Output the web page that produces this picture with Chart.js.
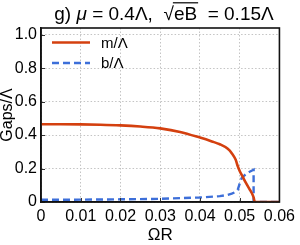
<!DOCTYPE html>
<html>
<head>
<meta charset="utf-8">
<script src="https://cdn.jsdelivr.net/npm/chart.js@4.4.0/dist/chart.umd.min.js"></script>
<style>
  html, body { margin: 0; padding: 0; background: #fff; }
  #wrap { width: 300px; height: 245px; }
</style>
</head>
<body>
<div id="wrap"><canvas id="c" width="300" height="245"></canvas></div>
<script>
// ---- data ----
const seriesLabels = ['m/Λ', 'b/Λ'];
const mOmegaR = [0, 0.005, 0.01, 0.015, 0.02, 0.025, 0.03, 0.035, 0.04, 0.043, 0.045, 0.047, 0.048, 0.049, 0.0495, 0.05, 0.0505, 0.051, 0.0515, 0.052, 0.0525, 0.053, 0.0535, 0.0538, 0.055, 0.06];
const mGap    = [0.465, 0.465, 0.464, 0.462, 0.458, 0.451, 0.440, 0.419, 0.385, 0.362, 0.345, 0.318, 0.292, 0.252, 0.215, 0.185, 0.162, 0.140, 0.117, 0.096, 0.076, 0.055, 0.028, 0, 0, 0];
const bOmegaR = [0, 0.01, 0.02, 0.03, 0.04, 0.045, 0.047, 0.048, 0.049, 0.0495, 0.05, 0.0505, 0.051, 0.0515, 0.052, 0.0525, 0.053, 0.0535, 0.0535, 0.055, 0.06];
const bGap    = [0.013, 0.014, 0.016, 0.019, 0.027, 0.035, 0.043, 0.050, 0.060, 0.072, 0.110, 0.143, 0.155, 0.165, 0.174, 0.181, 0.187, 0.193, 0, 0, 0];
const xTicks = [0, 0.01, 0.02, 0.03, 0.04, 0.05, 0.06];
const xTickLabels = ['0', '0.01', '0.02', '0.03', '0.04', '0.05', '0.06'];
const yTicks = [0, 0.2, 0.4, 0.6, 0.8, 1.0];
const yTickLabels = ['0', '0.2', '0.4', '0.6', '0.8', '1.0'];
const titleParts = [
  { t: 'g) ', style: '' },
  { t: 'μ', style: 'italic ' },
  { t: ' = 0.4Λ,  ', style: '' },
  { t: '√', style: '' },
  { t: 'eB', style: '', over: true },
  { t: '  = 0.15Λ', style: '' }
];
const xTitle = 'ΩR';
const yTitle = 'Gaps/Λ';

const ORANGE = '#d4400f';
const BLUE = '#3d6fd9';
const TICKFONT = '"Liberation Sans Narrow", "Liberation Sans", Arial, sans-serif';

const titlePlugin = {
  id: 'mathTitle',
  afterDraw(chart) {
    const ctx = chart.ctx;
    ctx.save();
    const size = 19;
    let total = 0;
    const widths = titleParts.map(p => {
      ctx.font = p.style + size + 'px "Liberation Sans", Arial, sans-serif';
      const w = ctx.measureText(p.t).width;
      total += w;
      return w;
    });
    let x = 164 - total / 2;
    const y = 19.5;
    ctx.fillStyle = '#000';
    ctx.textBaseline = 'alphabetic';
    ctx.textAlign = 'left';
    titleParts.forEach((p, i) => {
      ctx.font = p.style + size + 'px "Liberation Sans", Arial, sans-serif';
      ctx.fillText(p.t, x, y);
      if (p.over) {
        ctx.strokeStyle = '#000';
        ctx.lineWidth = 1.2;
        ctx.beginPath();
        ctx.moveTo(x - 1, 2.8);
        ctx.lineTo(x + widths[i] + 1, 2.8);
        ctx.stroke();
      }
      x += widths[i];
    });
    ctx.restore();
  }
};

const framePlugin = {
  id: 'frame',
  afterDatasetsDraw(chart) {
    const ctx = chart.ctx;
    const a = chart.chartArea;
    const xs = chart.scales.x, ys = chart.scales.y;
    ctx.save();
    ctx.strokeStyle = '#333';
    ctx.lineWidth = 1;
    ctx.beginPath();
    xTicks.forEach(v => {
      const px = Math.round(xs.getPixelForValue(v)) + 0.5;
      ctx.moveTo(px, a.bottom); ctx.lineTo(px, a.bottom - 4);
    });
    yTicks.forEach(v => {
      const py = Math.round(ys.getPixelForValue(v)) + 0.5;
      ctx.moveTo(a.left, py); ctx.lineTo(a.left + 4, py);
    });
    ctx.stroke();
    ctx.strokeStyle = '#111';
    ctx.lineWidth = 1.6;
    ctx.strokeRect(a.left, a.top, a.right - a.left, a.bottom - a.top);
    ctx.restore();
  },
  afterDraw(chart) {
    // legend inside plot
    const ctx = chart.ctx;
    ctx.save();
    chart.data.datasets.forEach((ds, i) => {
      const y = 42.5 + i * 20.5;
      ctx.strokeStyle = ds.borderColor;
      ctx.lineWidth = ds.borderWidth;
      ctx.setLineDash(ds.borderDash || []);
      ctx.beginPath();
      ctx.moveTo(52, y); ctx.lineTo(90, y);
      ctx.stroke();
      ctx.setLineDash([]);
      ctx.fillStyle = '#000';
      ctx.font = '15px "Liberation Sans", Arial, sans-serif';
      ctx.textBaseline = 'middle';
      ctx.textAlign = 'left';
      ctx.fillText(ds.label, 101, y + 1);
    });
    ctx.restore();
  }
};

new Chart(document.getElementById('c'), {
  type: 'line',
  data: {
    datasets: [
      {
        label: seriesLabels[0],
        data: mOmegaR.map((x, i) => ({ x, y: mGap[i] })),
        borderColor: ORANGE,
        borderWidth: 2.6,
        pointRadius: 0,
        tension: 0.2,
        cubicInterpolationMode: 'monotone',
        fill: false
      },
      {
        label: seriesLabels[1],
        data: bOmegaR.map((x, i) => ({ x, y: bGap[i] })),
        borderColor: BLUE,
        borderWidth: 2.4,
        borderDash: [7, 4],
        pointRadius: 0,
        tension: 0,
        fill: false
      }
    ]
  },
  options: {
    responsive: false,
    animation: false,
    devicePixelRatio: 1,
    layout: { padding: { top: 28, right: 14, left: 0, bottom: 0 } },
    plugins: { legend: { display: false }, title: { display: false }, tooltip: { enabled: false } },
    scales: {
      x: {
        type: 'linear',
        min: 0, max: 0.06,
        afterFit(s) { s.height = 43; },
        afterBuildTicks(s) { s.ticks = xTicks.map(v => ({ value: v })); },
        ticks: {
          padding: 5,
          color: '#000',
          maxRotation: 0,
          autoSkip: false,
          font: { family: TICKFONT, size: 16 },
          callback: (v) => xTickLabels[xTicks.findIndex(t => Math.abs(t - v) < 1e-9)]
        },
        grid: { color: '#c4c4c4', lineWidth: 1, drawTicks: false },
        border: { display: true, color: '#111', width: 1.6, dash: [1.5, 2] },
        title: { display: true, text: xTitle, color: '#000', font: { family: TICKFONT, size: 17, lineHeight: 1 }, padding: { top: 0, bottom: 1 } }
      },
      y: {
        type: 'linear',
        min: 0, max: 1.04,
        afterFit(s) { s.width = 41; },
        afterBuildTicks(s) { s.ticks = yTicks.map(v => ({ value: v })); },
        ticks: {
          padding: 4,
          color: '#000',
          autoSkip: false,
          font: { family: TICKFONT, size: 16 },
          callback: (v) => yTickLabels[yTicks.findIndex(t => Math.abs(t - v) < 1e-9)]
        },
        grid: { color: '#c4c4c4', lineWidth: 1, drawTicks: false },
        border: { display: true, color: '#111', width: 1.6, dash: [1.5, 2] },
        title: { display: true, text: yTitle, color: '#000', font: { family: '"Liberation Sans", Arial, sans-serif', size: 16, lineHeight: 1 }, padding: { top: 0, bottom: 0 } }
      }
    }
  },
  plugins: [titlePlugin, framePlugin]
});
</script>
</body>
</html>
